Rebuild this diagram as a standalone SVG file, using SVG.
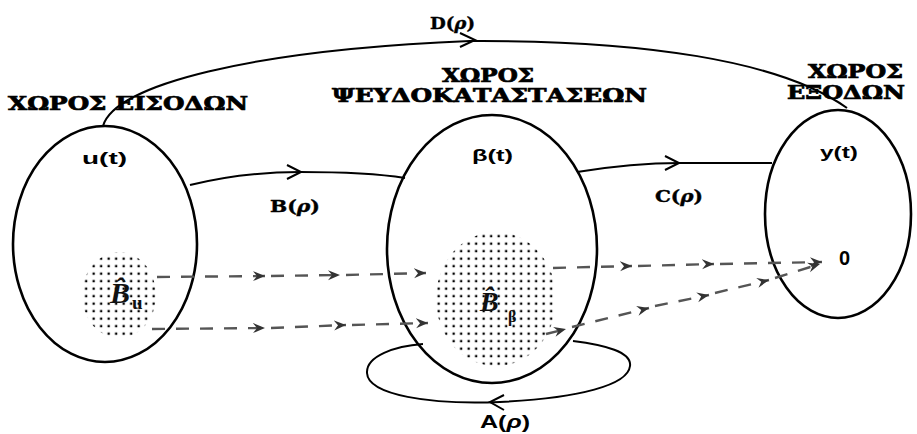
<svg xmlns="http://www.w3.org/2000/svg" width="917" height="434" viewBox="0 0 917 434">
<style>
.title{font-family:"DejaVu Serif","Liberation Serif",serif;font-weight:bold;font-size:18px;fill:#000;stroke:#000;stroke-width:0.7}
.lbl{font-family:"Liberation Sans","DejaVu Sans",sans-serif;font-weight:bold;fill:#000}
.lbls{font-family:"DejaVu Serif","Liberation Serif",serif;font-weight:bold;fill:#000;stroke:#000;stroke-width:0.4}
.rho{font-style:italic}
.space{fill:none;stroke:#000;stroke-width:2.6}
.conn{fill:none;stroke:#000;stroke-width:2}
.dash{fill:none;stroke:#555;stroke-width:2.4;stroke-dasharray:13 11;marker-end:url(#ah)}
.bb{font-family:"Liberation Serif","DejaVu Serif",serif;font-weight:bold;font-style:italic;fill:#111}
.sub{font-family:"Liberation Serif","DejaVu Serif",serif;font-weight:bold;fill:#111}
</style>
<defs>
<pattern id="dots" width="7.5" height="7.5" patternUnits="userSpaceOnUse">
<rect x="2.5" y="2.5" width="2.3" height="2.3" fill="#000"/>
</pattern>
<marker id="ah" markerUnits="userSpaceOnUse" markerWidth="14" markerHeight="12" refX="12" refY="6" orient="auto">
<path d="M0,1 L12,6 L0,11 L4,6 z" fill="#333"/>
</marker>
</defs>
<rect width="917" height="434" fill="#fff"/>

<g id="input-space">
<ellipse cx="119" cy="295" rx="37" ry="43" fill="url(#dots)"/>
<ellipse class="space" cx="105" cy="244" rx="92" ry="118"/>
<text class="title" x="8" y="110" textLength="240" lengthAdjust="spacingAndGlyphs">ΧΩΡΟΣ ΕΙΣΟΔΩΝ</text>
<text class="lbl" x="82" y="164" font-size="17" textLength="45" lengthAdjust="spacingAndGlyphs">u(t)</text>
<text class="bb" x="110" y="303" font-size="30">B̂</text>
<text class="sub" x="132" y="309" font-size="19">u</text>
</g>

<g id="state-space">
<ellipse cx="496" cy="299" rx="60" ry="67" fill="url(#dots)"/>
<ellipse class="space" cx="492" cy="249" rx="105" ry="134"/>
<text class="title" x="442" y="82" textLength="92" lengthAdjust="spacingAndGlyphs">ΧΩΡΟΣ</text>
<text class="title" x="332" y="102" textLength="315" lengthAdjust="spacingAndGlyphs">ΨΕΥΔΟΚΑΤΑΣΤΑΣΕΩΝ</text>
<text class="lbl" x="472" y="161" font-size="17" textLength="41" lengthAdjust="spacingAndGlyphs">β(t)</text>
<text class="bb" x="480" y="311" font-size="28">B̂</text>
<text class="sub" x="508" y="322" font-size="16">β</text>
</g>

<g id="output-space">
<ellipse class="space" cx="838" cy="214" rx="73" ry="104"/>
<text class="title" x="808" y="78" textLength="95" lengthAdjust="spacingAndGlyphs">ΧΩΡΟΣ</text>
<text class="title" x="787" y="99" textLength="118" lengthAdjust="spacingAndGlyphs">ΕΞΟΔΩΝ</text>
<text class="lbl" x="820" y="158" font-size="17" textLength="38" lengthAdjust="spacingAndGlyphs">y(t)</text>
<text class="lbl" x="839" y="265" font-size="20">0</text>
</g>

<g id="connectors">
<path class="conn" d="M103 126 C115 85 250 50 470 41 C640 40 780 60 847 108"/>
<path class="conn" d="M460 33 L475 40 L460 47"/>
<text class="lbls" x="430" y="29" font-size="17" textLength="45" lengthAdjust="spacingAndGlyphs">D(<tspan class="rho">ρ</tspan>)</text>

<path class="conn" d="M190 185 C230 175 270 172 300 172 C340 172 380 174 405 178"/>
<path class="conn" d="M287 165 L301 172 L287 179"/>
<text class="lbls" x="270" y="212" font-size="17" textLength="50" lengthAdjust="spacingAndGlyphs">B(<tspan class="rho">ρ</tspan>)</text>

<path class="conn" d="M577 172 C620 165 660 163 680 163 C720 163 750 163 772 163"/>
<path class="conn" d="M665 156 L679 163 L665 170"/>
<text class="lbls" x="655" y="202" font-size="17" textLength="48" lengthAdjust="spacingAndGlyphs">C(<tspan class="rho">ρ</tspan>)</text>

<path class="conn" stroke-width="3.4" d="M573 341 C605 345 632 352 630 366 C628 385 580 398 500 402 C430 405 368 395 367 373 C366 356 395 346 423 344"/>
<path class="conn" stroke-width="2.4" d="M504 395 L490 402 L504 410"/>
<text class="lbl" x="480" y="428" font-size="18" textLength="50" lengthAdjust="spacingAndGlyphs">A(<tspan class="rho">ρ</tspan>)</text>

<path class="dash" d="M157 277 L265 276"/>
<path class="dash" d="M271 276 L340 275"/>
<path class="dash" d="M346 275 L426 273"/>
<path class="dash" d="M152 329 L265 328"/>
<path class="dash" d="M271 328 L346 325"/>
<path class="dash" d="M352 325 L428 323"/>
<path class="dash" d="M553 268 L632 266"/>
<path class="dash" d="M638 266 L714 264"/>
<path class="dash" d="M720 264 L822 262"/>
<path class="dash" d="M546 334 L566 329"/>
<path class="dash" d="M572 327 L649 308"/>
<path class="dash" d="M655 306 L709 295"/>
<path class="dash" d="M715 293 L769 280"/>
<path class="dash" d="M775 278 L820 264"/>
</g>
</svg>
